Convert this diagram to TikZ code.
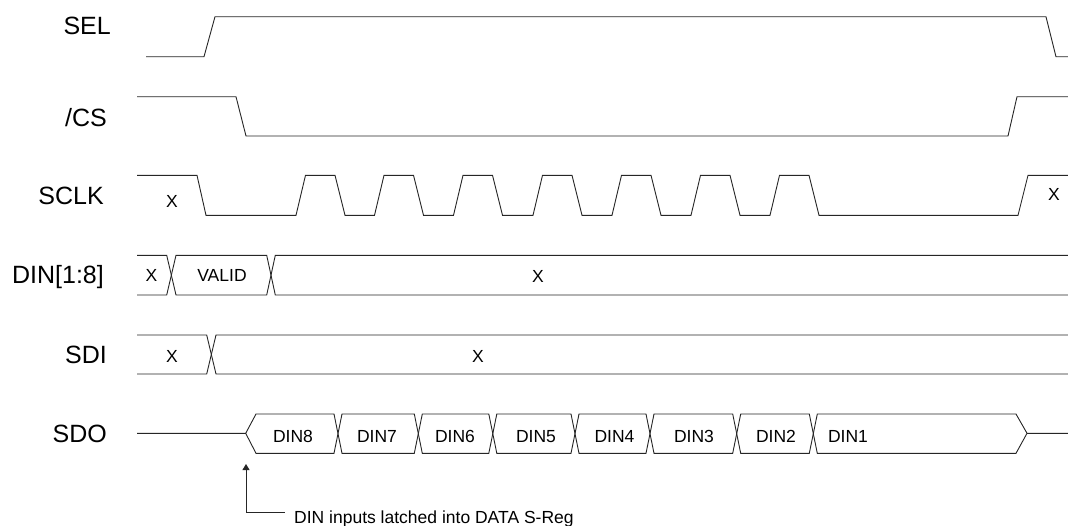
\documentclass[tikz,border=0pt]{standalone}
\usepackage{fontspec}
\setmainfont{Liberation Sans}
\usetikzlibrary{arrows.meta}
\tikzset{
  sig/.style={line width=0.9pt, draw=black!85, line join=miter},
  lbl/.style={font=\fontsize{25}{25}\selectfont, anchor=base east, inner sep=0pt},
  val/.style={font=\fontsize{17.5}{17.5}\selectfont, anchor=base, inner sep=0pt},
  note/.style={font=\fontsize{17.5}{17.5}\selectfont, anchor=base west, inner sep=0pt},
}
\begin{document}
\begin{tikzpicture}[x=1pt,y=-1pt]
\useasboundingbox (0,0) rectangle (1068,525);
\fill[white] (0,0) rectangle (1068,525);

% signal names
\node[lbl] (nSEL)  at (111,34)  {SEL};
\node[lbl] (nCS)   at (107,126) {/CS};
\node[lbl] (nSCLK) at (104,204) {SCLK};
\node[lbl] (nDIN)  at (104,283) {DIN[1:8]};
\node[lbl] (nSDI)  at (107,363) {SDI};
\node[lbl] (nSDO)  at (107,442) {SDO};

% SEL
\draw[sig] (146,56.7) -- (204,56.7) -- (215,16.7) -- (1046,16.7) -- (1056,56.7) -- (1068,56.7);

% /CS
\draw[sig] (137,96.7) -- (236,96.7) -- (246,136) -- (1008,136) -- (1017,96.7) -- (1068,96.7);

% SCLK
\def\hi{175.3}\def\lo{215.3}
\draw[sig] (137,\hi) -- (197,\hi) -- (206,\lo) -- (296,\lo)
  -- (305.5,\hi) -- (335,\hi) -- (345,\lo) -- (374.5,\lo)
  -- (384,\hi) -- (413.5,\hi) -- (423.5,\lo) -- (453.5,\lo)
  -- (463,\hi) -- (492.5,\hi) -- (502.5,\lo) -- (533,\lo)
  -- (542.5,\hi) -- (572,\hi) -- (582,\lo) -- (612,\lo)
  -- (621.5,\hi) -- (651,\hi) -- (661,\lo) -- (691,\lo)
  -- (700.5,\hi) -- (730,\hi) -- (740,\lo) -- (770,\lo)
  -- (779.5,\hi) -- (809,\hi) -- (819,\lo) -- (1018,\lo)
  -- (1028,\hi) -- (1068,\hi);
\node[val] (xSCLKa) at (172,207) {X};
\node[val] (xSCLKb) at (1054,200) {X};

% DIN[1:8]
\def\t{255.3}\def\b{295}
\draw[sig] (137,\t) -- (166.7,\t) -- (176,\b) -- (266.7,\b) -- (275.3,\t) -- (1068,\t);
\draw[sig] (137,\b) -- (166.7,\b) -- (176,\t) -- (266.7,\t) -- (275.3,\b) -- (1068,\b);
\node[val] (xDINa) at (151.5,281) {X};
\node[val] (vDIN)  at (222,281) {VALID};
\node[val] (xDINb) at (538,282) {X};

% SDI
\def\t{335}\def\b{374}
\draw[sig] (137,\t) -- (206.7,\t) -- (216,\b) -- (1068,\b);
\draw[sig] (137,\b) -- (206.7,\b) -- (216,\t) -- (1068,\t);
\node[val] (xSDIa) at (172,362) {X};
\node[val] (xSDIb) at (478,362) {X};

% SDO
\def\t{414}\def\b{453.3}\def\m{433.3}
\draw[sig] (245.7,\m) -- (256,\t) -- (334,\t) -- (342,\b) -- (414.3,\b) -- (422.3,\t)
  -- (488.8,\t) -- (496.8,\b) -- (571,\b) -- (579,\t) -- (646,\t) -- (654,\b)
  -- (732.7,\b) -- (740.7,\t) -- (809.3,\t) -- (817.3,\b) -- (1016,\b) -- (1027,\m) -- (1068,\m);
\draw[sig] (137,\m) -- (245.7,\m) -- (256,\b) -- (334,\b) -- (342,\t) -- (414.3,\t) -- (422.3,\b)
  -- (488.8,\b) -- (496.8,\t) -- (571,\t) -- (579,\b) -- (646,\b) -- (654,\t)
  -- (732.7,\t) -- (740.7,\b) -- (809.3,\b) -- (817.3,\t) -- (1016,\t) -- (1027,\m);
\node[val] (d8) at (293,442) {DIN8};
\node[val] (d7) at (377,442) {DIN7};
\node[val] (d6) at (455,442) {DIN6};
\node[val] (d5) at (536,442) {DIN5};
\node[val] (d4) at (614.5,442) {DIN4};
\node[val] (d3) at (694,442) {DIN3};
\node[val] (d2) at (776,442) {DIN2};
\node[val] (d1) at (848,442) {DIN1};

% annotation
\coordinate (latch) at (246,464);
\coordinate (elbow) at (246,512.7);
\coordinate (elbowend) at (285,512.7);
\node[note] (latchtext) at (294,523) {DIN inputs latched into DATA S-Reg};
\draw[sig, -{Triangle[width=7pt,length=6pt]}] (elbow) -- (latch);
\draw[sig] (elbow) -- (elbowend);
\end{tikzpicture}
\end{document}
